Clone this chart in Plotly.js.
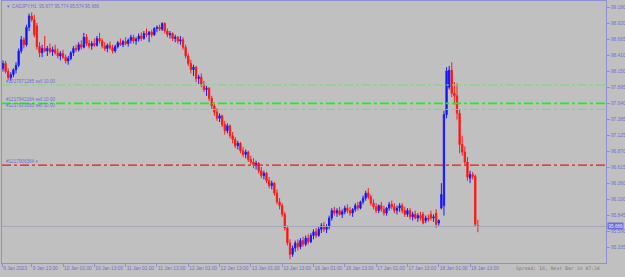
<!DOCTYPE html>
<html><head><meta charset="utf-8">
<script src="https://cdn.plot.ly/plotly-3.0.1.min.js"></script>
<style>html,body{margin:0;padding:0;background:#c0c0c0;}#c{width:625px;height:277px;}</style>
</head><body><div id="c"></div>
<script>
// Bar numbers (hours since 9 Jan 00:00, weekend skipped) of the first bar
const firstBar = 2;
const openP = [98.20,98.28,98.15,98.05,98.10,98.18,98.25,98.48,98.66,98.58,98.86,99.04,98.98,98.88,98.55,98.45,98.52,98.48,98.52,98.47,98.50,98.45,98.40,98.44,98.38,98.32,98.36,98.45,98.52,98.50,98.58,98.54,98.70,98.60,98.56,98.60,98.57,98.68,98.64,98.56,98.52,98.57,98.53,98.48,98.55,98.61,98.58,98.63,98.60,98.65,98.70,98.64,98.67,98.72,98.68,98.76,98.74,98.78,98.74,98.84,98.86,98.83,98.92,98.80,98.74,98.76,98.68,98.70,98.64,98.66,98.54,98.40,98.28,98.18,98.22,98.04,98.06,97.94,97.86,97.88,97.72,97.60,97.50,97.40,97.44,97.30,97.20,97.28,97.12,97.06,96.96,97.00,96.88,96.82,96.86,96.74,96.70,96.66,96.68,96.56,96.48,96.52,96.40,96.32,96.36,96.20,96.06,96.00,95.86,95.64,95.40,95.22,95.32,95.40,95.34,95.44,95.38,95.48,95.42,95.52,95.58,95.52,95.62,95.68,95.62,95.66,95.80,95.92,95.88,95.92,95.86,95.90,95.96,95.92,95.88,95.94,96.00,95.96,96.06,96.12,96.20,96.14,96.04,95.98,95.92,96.00,95.94,95.88,95.96,96.02,95.98,95.92,95.96,96.00,95.92,95.86,95.92,95.82,95.86,95.80,95.84,95.86,95.76,95.80,95.86,95.80,95.88,95.72,95.96,96.00,97.46,97.90,98.17,97.80,97.76,97.48,96.98,96.86,96.70,96.44,96.50,96.47,95.677];
const highP = [98.33,98.32,98.20,98.14,98.20,98.30,98.52,98.72,98.70,98.90,99.08,99.10,99.06,98.93,98.62,98.58,98.72,98.56,98.60,98.55,98.58,98.52,98.48,98.50,98.42,98.40,98.48,98.56,98.58,98.62,98.65,98.77,98.75,98.66,98.64,98.68,98.72,98.77,98.68,98.62,98.60,98.63,98.58,98.58,98.64,98.68,98.66,98.70,98.68,98.74,98.74,98.70,98.76,98.78,98.80,98.84,98.80,98.82,98.86,98.89,98.90,98.94,98.94,98.84,98.80,98.78,98.74,98.72,98.72,98.70,98.58,98.44,98.34,98.26,98.24,98.10,98.12,98.00,97.92,97.90,97.76,97.66,97.56,97.48,97.46,97.36,97.32,97.30,97.18,97.10,97.04,97.02,96.94,96.90,96.88,96.80,96.76,96.72,96.70,96.62,96.56,96.54,96.46,96.40,96.38,96.26,96.12,96.04,95.90,95.68,95.46,95.36,95.44,95.46,95.48,95.50,95.52,95.54,95.56,95.62,95.64,95.66,95.72,95.74,95.70,95.84,95.96,95.98,95.96,95.98,95.94,96.00,96.02,95.98,95.96,96.04,96.06,96.08,96.16,96.24,96.28,96.18,96.10,96.04,96.02,96.06,96.00,95.98,96.06,96.08,96.04,96.00,96.04,96.04,95.98,95.96,95.96,95.90,95.92,95.88,95.90,95.90,95.84,95.86,95.92,95.86,95.94,95.78,96.36,97.52,98.22,98.24,98.30,97.98,97.96,97.55,97.12,96.95,96.78,96.56,96.54,96.50,95.774];
const lowP = [98.15,98.12,98.02,98.00,98.06,98.12,98.22,98.44,98.52,98.55,98.80,98.95,98.70,98.50,98.38,98.38,98.46,98.40,98.44,98.40,98.42,98.36,98.33,98.35,98.28,98.26,98.33,98.40,98.46,98.47,98.50,98.52,98.56,98.52,98.50,98.54,98.55,98.60,98.52,98.48,98.46,98.50,98.44,98.45,98.52,98.56,98.54,98.57,98.55,98.60,98.60,98.58,98.63,98.64,98.66,98.70,98.62,98.70,98.72,98.78,98.80,98.80,98.76,98.70,98.68,98.64,98.62,98.60,98.58,98.50,98.36,98.24,98.12,98.08,97.98,97.95,97.90,97.82,97.76,97.68,97.55,97.44,97.36,97.34,97.26,97.14,97.16,97.08,97.00,96.92,96.90,96.84,96.78,96.76,96.70,96.66,96.60,96.58,96.52,96.44,96.42,96.36,96.28,96.26,96.16,96.02,95.94,95.82,95.60,95.36,95.14,95.18,95.26,95.28,95.30,95.34,95.35,95.38,95.40,95.46,95.48,95.50,95.56,95.58,95.56,95.62,95.76,95.84,95.82,95.84,95.80,95.86,95.88,95.84,95.82,95.90,95.92,95.94,96.02,96.08,96.10,96.00,95.94,95.88,95.88,95.90,95.84,95.84,95.92,95.94,95.88,95.86,95.90,95.88,95.82,95.82,95.78,95.76,95.78,95.74,95.76,95.70,95.72,95.74,95.76,95.74,95.64,95.68,95.94,95.84,97.40,97.86,97.74,97.62,97.38,96.84,96.80,96.66,96.40,96.36,96.42,95.66,95.574];
const closeP = [98.28,98.15,98.05,98.10,98.18,98.25,98.48,98.66,98.58,98.86,99.04,98.98,98.74,98.55,98.45,98.52,98.48,98.52,98.47,98.50,98.45,98.40,98.44,98.38,98.32,98.36,98.45,98.52,98.50,98.58,98.54,98.70,98.60,98.56,98.60,98.57,98.68,98.64,98.56,98.52,98.57,98.53,98.48,98.55,98.61,98.58,98.63,98.60,98.65,98.70,98.64,98.67,98.72,98.68,98.76,98.74,98.78,98.74,98.84,98.86,98.83,98.92,98.80,98.74,98.76,98.68,98.70,98.64,98.66,98.54,98.40,98.28,98.18,98.22,98.04,98.06,97.94,97.86,97.88,97.72,97.60,97.50,97.40,97.44,97.30,97.20,97.28,97.12,97.06,96.96,97.00,96.88,96.82,96.86,96.74,96.70,96.66,96.68,96.56,96.48,96.52,96.40,96.32,96.36,96.20,96.06,96.00,95.86,95.64,95.40,95.22,95.32,95.40,95.34,95.44,95.38,95.48,95.42,95.52,95.58,95.52,95.62,95.68,95.62,95.66,95.80,95.92,95.88,95.92,95.86,95.90,95.96,95.92,95.88,95.94,96.00,95.96,96.06,96.12,96.20,96.14,96.04,95.98,95.92,96.00,95.94,95.88,95.96,96.02,95.98,95.92,95.96,96.00,95.92,95.86,95.92,95.82,95.86,95.80,95.84,95.80,95.72,95.80,95.78,95.80,95.82,95.70,95.76,96.18,97.46,98.16,98.17,97.80,97.76,97.48,96.98,96.86,96.70,96.46,96.50,96.47,95.70,95.666];

const timeLabels = ["9 Jan 2023","9 Jan 13:00","10 Jan 01:00","10 Jan 13:00","11 Jan 01:00","11 Jan 13:00","12 Jan 01:00","12 Jan 13:00","13 Jan 01:00","13 Jan 13:00","16 Jan 01:00","16 Jan 13:00","17 Jan 01:00","17 Jan 13:00","18 Jan 01:00","18 Jan 13:00"];
const timeLabelBars = [1.7,13,25,37,49,61,73,85,97,109,121,133,145,157,169,181];

const priceTicks = [99.180,98.920,98.665,98.410,98.150,97.895,97.640,97.385,97.125,96.870,96.615,96.360,96.100,95.845,95.590,95.335,95.075];

const orderLevels = [97.934,97.640,97.543];
const orderLabels = ["#1217971285 sell 10.00","#1217942164 sell 10.00","#1217921050 sell 10.00"];
const stopLevel = 96.649;
const stopLabel = "#1217906364 s";
const symbolTitle = "▼ CADJPY,H1  95.677 95.774 95.574 95.666";
const bidPrice = 95.666;
const spreadText = "Spread: 16, Next Bar in 47:34";

const bars = closeP.map((_, i) => firstBar + i);
const txt = '#6f6fd6';
const axc = '#9090d0';

const shapes = [];
const annotations = [];
orderLevels.forEach((lv, i) => {
  shapes.push({type:'line', xref:'paper', x0:0, x1:1, yref:'y', y0:lv, y1:lv,
    line:{color: i===1 ? '#1ef01e' : '#74dc74', width: i===1 ? 1.6 : 1, dash:'dashdot'}});
  annotations.push({xref:'paper', x:0.003, xanchor:'left', yref:'y', y:lv, yanchor:'bottom', yshift:-1,
    text:orderLabels[i], showarrow:false, font:{family:'Liberation Sans', size:4.6, color:txt}});
});
shapes.push({type:'line', xref:'paper', x0:0, x1:1, yref:'y', y0:stopLevel, y1:stopLevel,
  line:{color:'#e81a1a', width:1.3, dash:'dashdot'}});
annotations.push({xref:'paper', x:0.003, xanchor:'left', yref:'y', y:stopLevel, yanchor:'bottom', yshift:-1,
  text:stopLabel, showarrow:false, font:{family:'Liberation Sans', size:4.6, color:txt}});
shapes.push({type:'line', xref:'paper', x0:0, x1:1, yref:'y', y0:bidPrice, y1:bidPrice,
  line:{color:'#a3a6b8', width:1}});
annotations.push({xref:'paper', x:1, xanchor:'left', xshift:1, yref:'y', y:bidPrice, yanchor:'middle',
  text:bidPrice.toFixed(3), showarrow:false, bgcolor:'#6c6cd8', borderpad:0.5,
  font:{family:'Liberation Sans', size:4.6, color:'#e8e8ff'}});
annotations.push({xref:'paper', x:0.004, xanchor:'left', yref:'paper', y:1, yanchor:'top', yshift:-1,
  text:symbolTitle, showarrow:false, font:{family:'Liberation Sans', size:4.6, color:txt}});
annotations.push({xref:'paper', x:0.993, xanchor:'right', yref:'paper', y:0, yanchor:'top', yshift:-1,
  text:spreadText, showarrow:false, font:{family:'DejaVu Sans Mono', size:4.8, color:'#7a7a7a'}});

const trace = {
  type:'candlestick', x:bars, open:openP, high:highP, low:lowP, close:closeP,
  increasing:{line:{color:'#1a1aff', width:1}, fillcolor:'#0000ff'},
  decreasing:{line:{color:'#ff1a1a', width:1}, fillcolor:'#ff0000'},
  whiskerwidth:0, hoverinfo:'skip'
};

const layout = {
  width:625, height:277,
  margin:{l:2, r:19, t:1, b:14},
  paper_bgcolor:'#c0c0c0', plot_bgcolor:'#c0c0c0',
  showlegend:false,
  xaxis:{range:[1.62, 233.1], rangeslider:{visible:false}, showgrid:false, zeroline:false,
    showline:true, mirror:true, linecolor:axc, linewidth:1,
    tickmode:'array', tickvals:timeLabelBars, ticktext:timeLabels, tickangle:0,
    ticks:'outside', ticklen:3, tickcolor:axc, ticklabelposition:'outside right',
    tickfont:{family:'Liberation Sans', size:4.8, color:txt}},
  yaxis:{range:[95.080, 99.281], side:'right', showgrid:false, zeroline:false,
    showline:true, mirror:true, linecolor:axc, linewidth:1,
    tickmode:'array', tickvals:priceTicks, ticktext:priceTicks.map(v=>v.toFixed(3)),
    ticks:'outside', ticklen:3, tickcolor:axc,
    tickfont:{family:'Liberation Sans', size:4.8, color:txt}},
  shapes:shapes, annotations:annotations
};
Plotly.newPlot('c', [trace], layout, {staticPlot:true, displayModeBar:false});
</script></body></html>
